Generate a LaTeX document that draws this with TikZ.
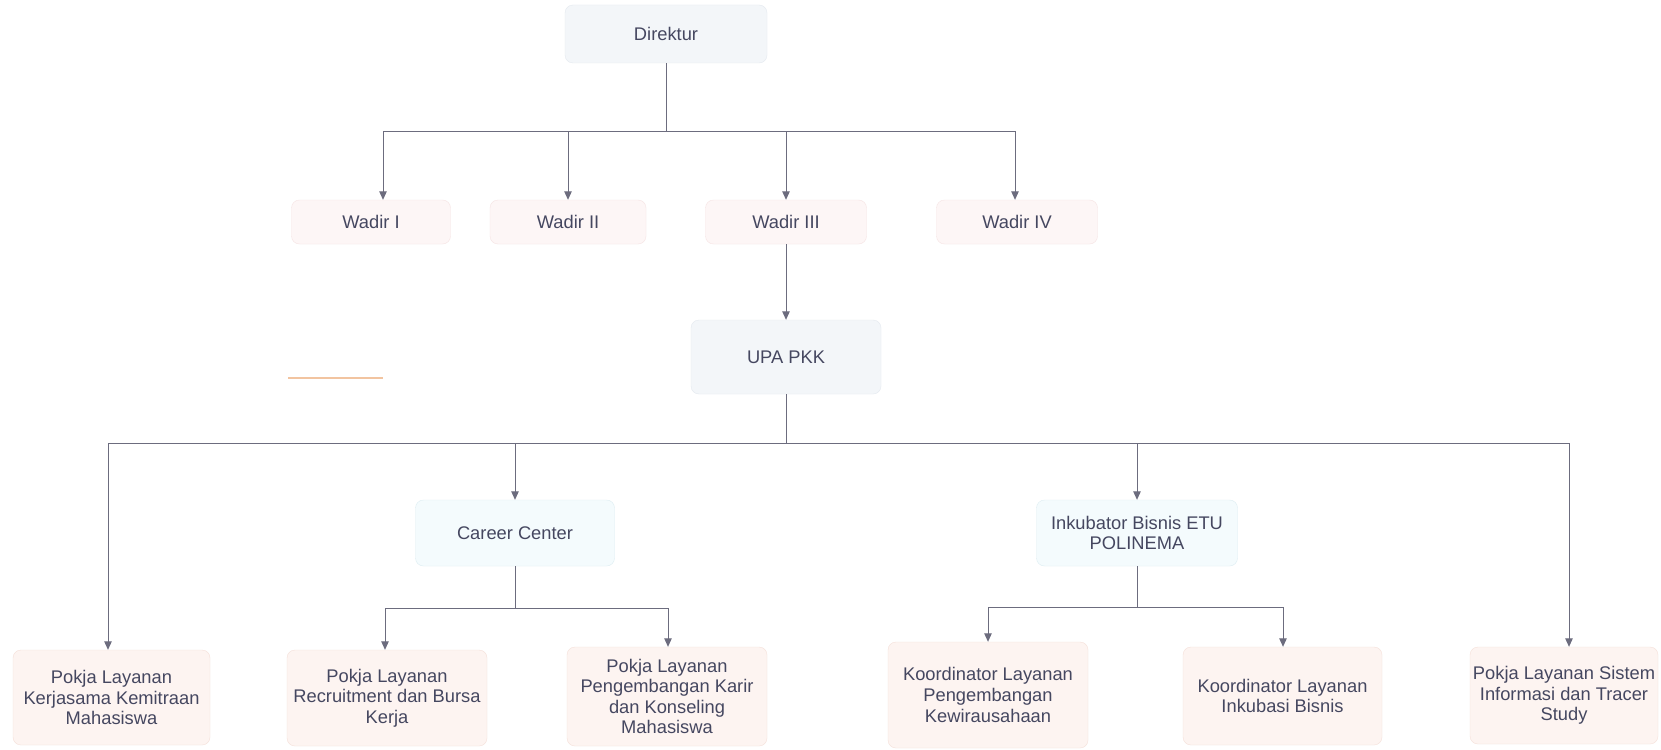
\documentclass[tikz,border=0pt]{standalone}
\usepackage{fontspec}
\setmainfont{Liberation Sans}
\usetikzlibrary{arrows.meta}
\definecolor{txt}{HTML}{454760}
\definecolor{ln}{HTML}{6C6C7E}
\definecolor{topfill}{HTML}{F3F6F9}
\definecolor{topdraw}{HTML}{E4E9EF}
\definecolor{wfill}{HTML}{FDF6F6}
\definecolor{wdraw}{HTML}{F6E4E4}
\definecolor{cfill}{HTML}{F4FBFD}
\definecolor{cdraw}{HTML}{DDEDF2}
\definecolor{bfill}{HTML}{FDF4F1}
\definecolor{bdraw}{HTML}{F5E0D9}
\definecolor{orng}{HTML}{F2C4A0}
\tikzset{
  box/.style={rounded corners=8pt, inner sep=1pt, align=center, text=txt, font=\fontsize{18.3}{20.6}\selectfont},
  topbox/.style={box, fill=topfill, draw=topdraw},
  wbox/.style={box, fill=wfill, draw=wdraw},
  cbox/.style={box, fill=cfill, draw=cdraw},
  bbox/.style={box, fill=bfill, draw=bdraw},
  con/.style={draw=ln, line width=0.9pt},
  arr/.style={con, -{Triangle[length=8.5pt,width=7.5pt]}}
}
\begin{document}
\begin{tikzpicture}[x=1pt,y=-1pt]
\useasboundingbox (0,0) rectangle (1661,749);
\fill[white] (0,0) rectangle (1661,749);

% nodes
\node[topbox, minimum width=202pt, minimum height=58pt] (dir) at (666,34) {Direktur};
\node[wbox, minimum width=159pt, minimum height=44pt] (w1) at (371,222) {Wadir I};
\node[wbox, minimum width=156pt, minimum height=44pt] (w2) at (568,222) {Wadir II};
\node[wbox, minimum width=161pt, minimum height=44pt] (w3) at (786,222) {Wadir III};
\node[wbox, minimum width=161pt, minimum height=44pt] (w4) at (1017,222) {Wadir IV};
\node[topbox, minimum width=190pt, minimum height=74pt] (upa) at (786,357) {UPA PKK};
\node[cbox, minimum width=199pt, minimum height=66pt] (cc) at (515,533) {Career Center};
\node[cbox, minimum width=201pt, minimum height=66pt] (ink) at (1137,533) {Inkubator Bisnis ETU\\POLINEMA};
\node[bbox, minimum width=197pt, minimum height=95pt] (b1) at (111.5,697.5) {Pokja Layanan\\Kerjasama Kemitraan\\Mahasiswa};
\node[bbox, minimum width=200pt, minimum height=96pt] (b2) at (387,698) {Pokja Layanan\\Recruitment dan Bursa\\Kerja};
\node[bbox, minimum width=200pt, minimum height=99pt] (b3) at (667,696.5) {Pokja Layanan\\Pengembangan Karir\\dan Konseling\\Mahasiswa};
\node[bbox, minimum width=200pt, minimum height=106pt] (b4) at (988,695) {Koordinator Layanan\\Pengembangan\\Kewirausahaan};
\node[bbox, minimum width=199pt, minimum height=98pt] (b5) at (1282.5,696) {Koordinator Layanan\\Inkubasi Bisnis};
\node[bbox, minimum width=188pt, minimum height=97pt] (b6) at (1564,695.5) {Pokja Layanan Sistem\\Informasi dan Tracer\\Study};

% junction coordinates
\coordinate (j0) at (666,131);
\coordinate (jw1) at (383,131);
\coordinate (jw2) at (568,131);
\coordinate (jw3) at (786,131);
\coordinate (jw4) at (1015,131);
\coordinate (u0) at (786,443);
\coordinate (ub1) at (108,443);
\coordinate (ucc) at (515,443);
\coordinate (uink) at (1137,443);
\coordinate (ub6) at (1569,443);
\coordinate (c0) at (515,608);
\coordinate (cb2) at (385,608);
\coordinate (cb3) at (668,608);
\coordinate (i0) at (1137,607);
\coordinate (ib4) at (988,607);
\coordinate (ib5) at (1283,607);

% connectors
\draw[con] (dir.south) -- (j0);
\draw[con] (jw1) -- (jw4);
\draw[arr] (jw1) -- (jw1 |- w1.north);
\draw[arr] (jw2) -- (w2.north);
\draw[arr] (jw3) -- (w3.north);
\draw[arr] (jw4) -- (jw4 |- w4.north);
\draw[arr] (w3.south) -- (upa.north);

\draw[con] (upa.south) -- (u0);
\draw[con] (ub1) -- (ub6);
\draw[arr] (ub1) -- (ub1 |- b1.north);
\draw[arr] (ucc) -- (cc.north);
\draw[arr] (uink) -- (ink.north);
\draw[arr] (ub6) -- (ub6 |- b6.north);

\draw[con] (cc.south) -- (c0);
\draw[con] (cb2) -- (cb3);
\draw[arr] (cb2) -- (cb2 |- b2.north);
\draw[arr] (cb3) -- (cb3 |- b3.north);

\draw[con] (ink.south) -- (i0);
\draw[con] (ib4) -- (ib5);
\draw[arr] (ib4) -- (ib4 |- b4.north);
\draw[arr] (ib5) -- (ib5 |- b5.north);

% stray orange mark
\draw[orng, line width=1.6pt] (288,378) -- (383,378);
\end{tikzpicture}
\end{document}
